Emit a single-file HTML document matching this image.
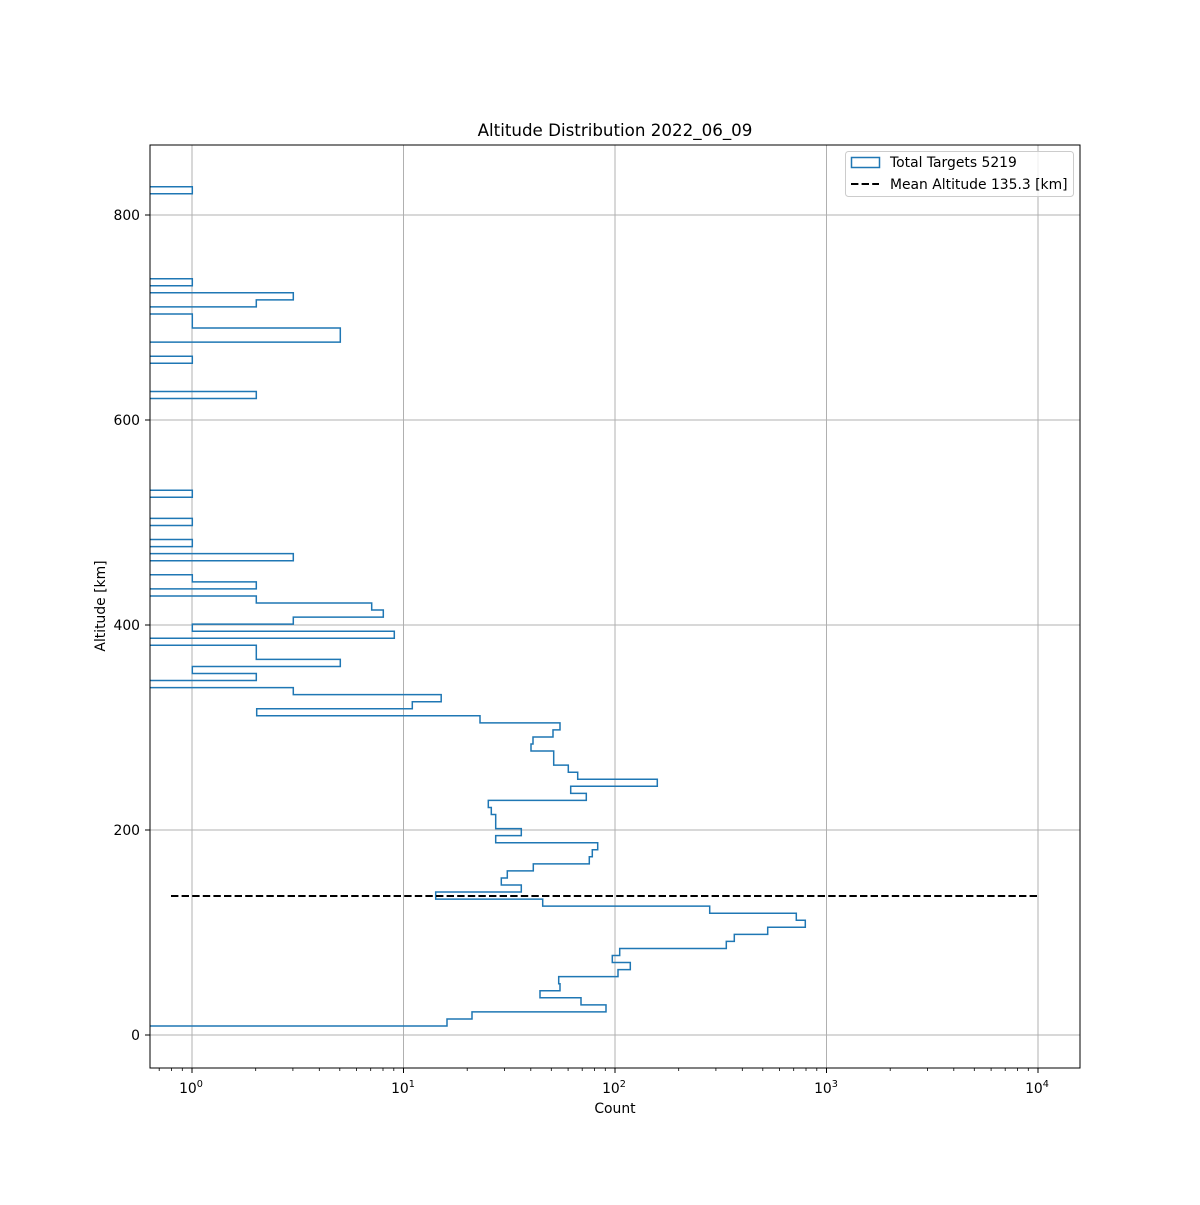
<!DOCTYPE html>
<html><head><meta charset="utf-8"><style>html,body{margin:0;padding:0;background:#fff}</style></head>
<body>
<svg width="1200" height="1200" viewBox="0 0 1200 1200" xmlns="http://www.w3.org/2000/svg" font-family="DejaVu Sans, Liberation Sans, sans-serif">
<rect width="1200" height="1200" fill="#fff"/>
<defs><clipPath id="ax"><rect x="150" y="145" width="930" height="923"/></clipPath></defs>
<g stroke="#b0b0b0" stroke-width="1">
<line x1="192" y1="145" x2="192" y2="1068"/>
<line x1="403.5" y1="145" x2="403.5" y2="1068"/>
<line x1="615" y1="145" x2="615" y2="1068"/>
<line x1="826.5" y1="145" x2="826.5" y2="1068"/>
<line x1="1038" y1="145" x2="1038" y2="1068"/>
<line x1="150" y1="1035" x2="1080" y2="1035"/>
<line x1="150" y1="830" x2="1080" y2="830"/>
<line x1="150" y1="625" x2="1080" y2="625"/>
<line x1="150" y1="420" x2="1080" y2="420"/>
<line x1="150" y1="215" x2="1080" y2="215"/>
</g>
<path clip-path="url(#ax)" fill="none" stroke="#1f77b4" stroke-width="1.5" d="M100,1026 H447 V1018.95 H472 V1011.9 H606 V1004.85 H581 V997.8 H540 V990.75 H560 V983.7 H558.7 V976.65 H618 V969.6 H630.3 V962.55 H612.3 V955.5 H619.7 V948.45 H726.3 V941.4 H734.3 V934.35 H767.7 V927.3 H805.3 V920.25 H796.3 V913.2 H709.7 V906.15 H542.7 V899.1 H435.7 V892.05 H521.3 V885 H501.3 V877.95 H507.3 V870.9 H533.3 V863.85 H589.3 V856.8 H592.3 V849.75 H597.7 V842.7 H495.7 V835.65 H521.3 V828.6 H495.7 V814.5 H491.3 V807.45 H488.3 V800.4 H586.3 V793.35 H570.7 V786.3 H657.3 V779.25 H577.7 V772.2 H568.3 V765.15 H553.7 V751.05 H531 V744 H533 V736.95 H553 V729.9 H560 V722.85 H480 V715.8 H256.7 V708.75 H412.3 V701.7 H441.2 V694.65 H293.3 V687.6 H100 V680.55 H256.3 V673.5 H192.3 V666.45 H340.3 V659.4 H256.3 V645.3 H100 V638.25 H394.3 V631.2 H192.3 V624.15 H293.3 V617.1 H383.3 V610.05 H371.7 V603 H256.3 V595.95 H100 V588.9 H256.3 V581.85 H192.3 V574.8 H100 V560.7 H293.3 V553.65 H100 V546.6 H192.3 V539.55 H100 V525.45 H192.3 V518.4 H100 V497.25 H192.3 V490.2 H100 V398.55 H256.3 V391.5 H100 V363.3 H192.3 V356.25 H100 V342.15 H340.3 V328.05 H192.3 V313.95 H100 V306.9 H256.3 V299.85 H293.3 V292.8 H100 V285.75 H192.3 V278.7 H100 V193.8 H192.3 V186.75 H100"/>
<line x1="171" y1="896" x2="1038" y2="896" stroke="#000" stroke-width="2" stroke-dasharray="7.4,3.2"/>
<rect x="150" y="145" width="930" height="923" fill="none" stroke="#000" stroke-width="1"/>
<g stroke="#000" stroke-width="1">
<line x1="192" y1="1068" x2="192" y2="1073"/><line x1="403.5" y1="1068" x2="403.5" y2="1073"/><line x1="615" y1="1068" x2="615" y2="1073"/><line x1="826.5" y1="1068" x2="826.5" y2="1073"/><line x1="1038" y1="1068" x2="1038" y2="1073"/>
<line x1="145" y1="1035" x2="150" y2="1035"/><line x1="145" y1="830" x2="150" y2="830"/><line x1="145" y1="625" x2="150" y2="625"/><line x1="145" y1="420" x2="150" y2="420"/><line x1="145" y1="215" x2="150" y2="215"/>
</g>
<g stroke="#000" stroke-width="0.8">
<line x1="159.2" y1="1068" x2="159.2" y2="1071"/><line x1="171.5" y1="1068" x2="171.5" y2="1071"/><line x1="182.3" y1="1068" x2="182.3" y2="1071"/>
<line x1="255.7" y1="1068" x2="255.7" y2="1071"/><line x1="292.9" y1="1068" x2="292.9" y2="1071"/><line x1="319.3" y1="1068" x2="319.3" y2="1071"/><line x1="339.8" y1="1068" x2="339.8" y2="1071"/><line x1="356.6" y1="1068" x2="356.6" y2="1071"/><line x1="370.7" y1="1068" x2="370.7" y2="1071"/><line x1="383" y1="1068" x2="383" y2="1071"/><line x1="393.8" y1="1068" x2="393.8" y2="1071"/>
<line x1="467.2" y1="1068" x2="467.2" y2="1071"/><line x1="504.4" y1="1068" x2="504.4" y2="1071"/><line x1="530.8" y1="1068" x2="530.8" y2="1071"/><line x1="551.3" y1="1068" x2="551.3" y2="1071"/><line x1="568.1" y1="1068" x2="568.1" y2="1071"/><line x1="582.2" y1="1068" x2="582.2" y2="1071"/><line x1="594.5" y1="1068" x2="594.5" y2="1071"/><line x1="605.3" y1="1068" x2="605.3" y2="1071"/>
<line x1="678.7" y1="1068" x2="678.7" y2="1071"/><line x1="715.9" y1="1068" x2="715.9" y2="1071"/><line x1="742.3" y1="1068" x2="742.3" y2="1071"/><line x1="762.8" y1="1068" x2="762.8" y2="1071"/><line x1="779.6" y1="1068" x2="779.6" y2="1071"/><line x1="793.7" y1="1068" x2="793.7" y2="1071"/><line x1="806" y1="1068" x2="806" y2="1071"/><line x1="816.8" y1="1068" x2="816.8" y2="1071"/>
<line x1="890.2" y1="1068" x2="890.2" y2="1071"/><line x1="927.4" y1="1068" x2="927.4" y2="1071"/><line x1="953.8" y1="1068" x2="953.8" y2="1071"/><line x1="974.3" y1="1068" x2="974.3" y2="1071"/><line x1="991.1" y1="1068" x2="991.1" y2="1071"/><line x1="1005.2" y1="1068" x2="1005.2" y2="1071"/><line x1="1017.5" y1="1068" x2="1017.5" y2="1071"/><line x1="1028.3" y1="1068" x2="1028.3" y2="1071"/>
</g>
<g font-size="13.9" fill="#000">
<text x="191" y="1093" text-anchor="middle">10<tspan font-size="9.7" dy="-6">0</tspan></text>
<text x="403" y="1093" text-anchor="middle">10<tspan font-size="9.7" dy="-6">1</tspan></text>
<text x="614" y="1093" text-anchor="middle">10<tspan font-size="9.7" dy="-6">2</tspan></text>
<text x="826" y="1093" text-anchor="middle">10<tspan font-size="9.7" dy="-6">3</tspan></text>
<text x="1037" y="1093" text-anchor="middle">10<tspan font-size="9.7" dy="-6">4</tspan></text>
<text x="140" y="1040" text-anchor="end">0</text>
<text x="140" y="835" text-anchor="end">200</text>
<text x="140" y="630" text-anchor="end">400</text>
<text x="140" y="425" text-anchor="end">600</text>
<text x="140" y="220" text-anchor="end">800</text>
<text x="615" y="1113" text-anchor="middle">Count</text>
<text transform="translate(105,606) rotate(-90)" text-anchor="middle">Altitude [km]</text>
</g>
<text x="615" y="136" font-size="16.7" text-anchor="middle">Altitude Distribution 2022_06_09</text>
<rect x="845.5" y="151.5" width="228" height="45" rx="3" fill="#fff" fill-opacity="0.8" stroke="#ccc"/>
<rect x="851.5" y="157.5" width="28" height="10" fill="none" stroke="#1f77b4" stroke-width="1.5"/>
<line x1="851" y1="184" x2="879" y2="184" stroke="#000" stroke-width="2" stroke-dasharray="7.4,3.2"/>
<text x="890" y="167" font-size="13.9">Total Targets 5219</text>
<text x="890" y="189" font-size="13.9">Mean Altitude 135.3 [km]</text>
</svg>
</body></html>
